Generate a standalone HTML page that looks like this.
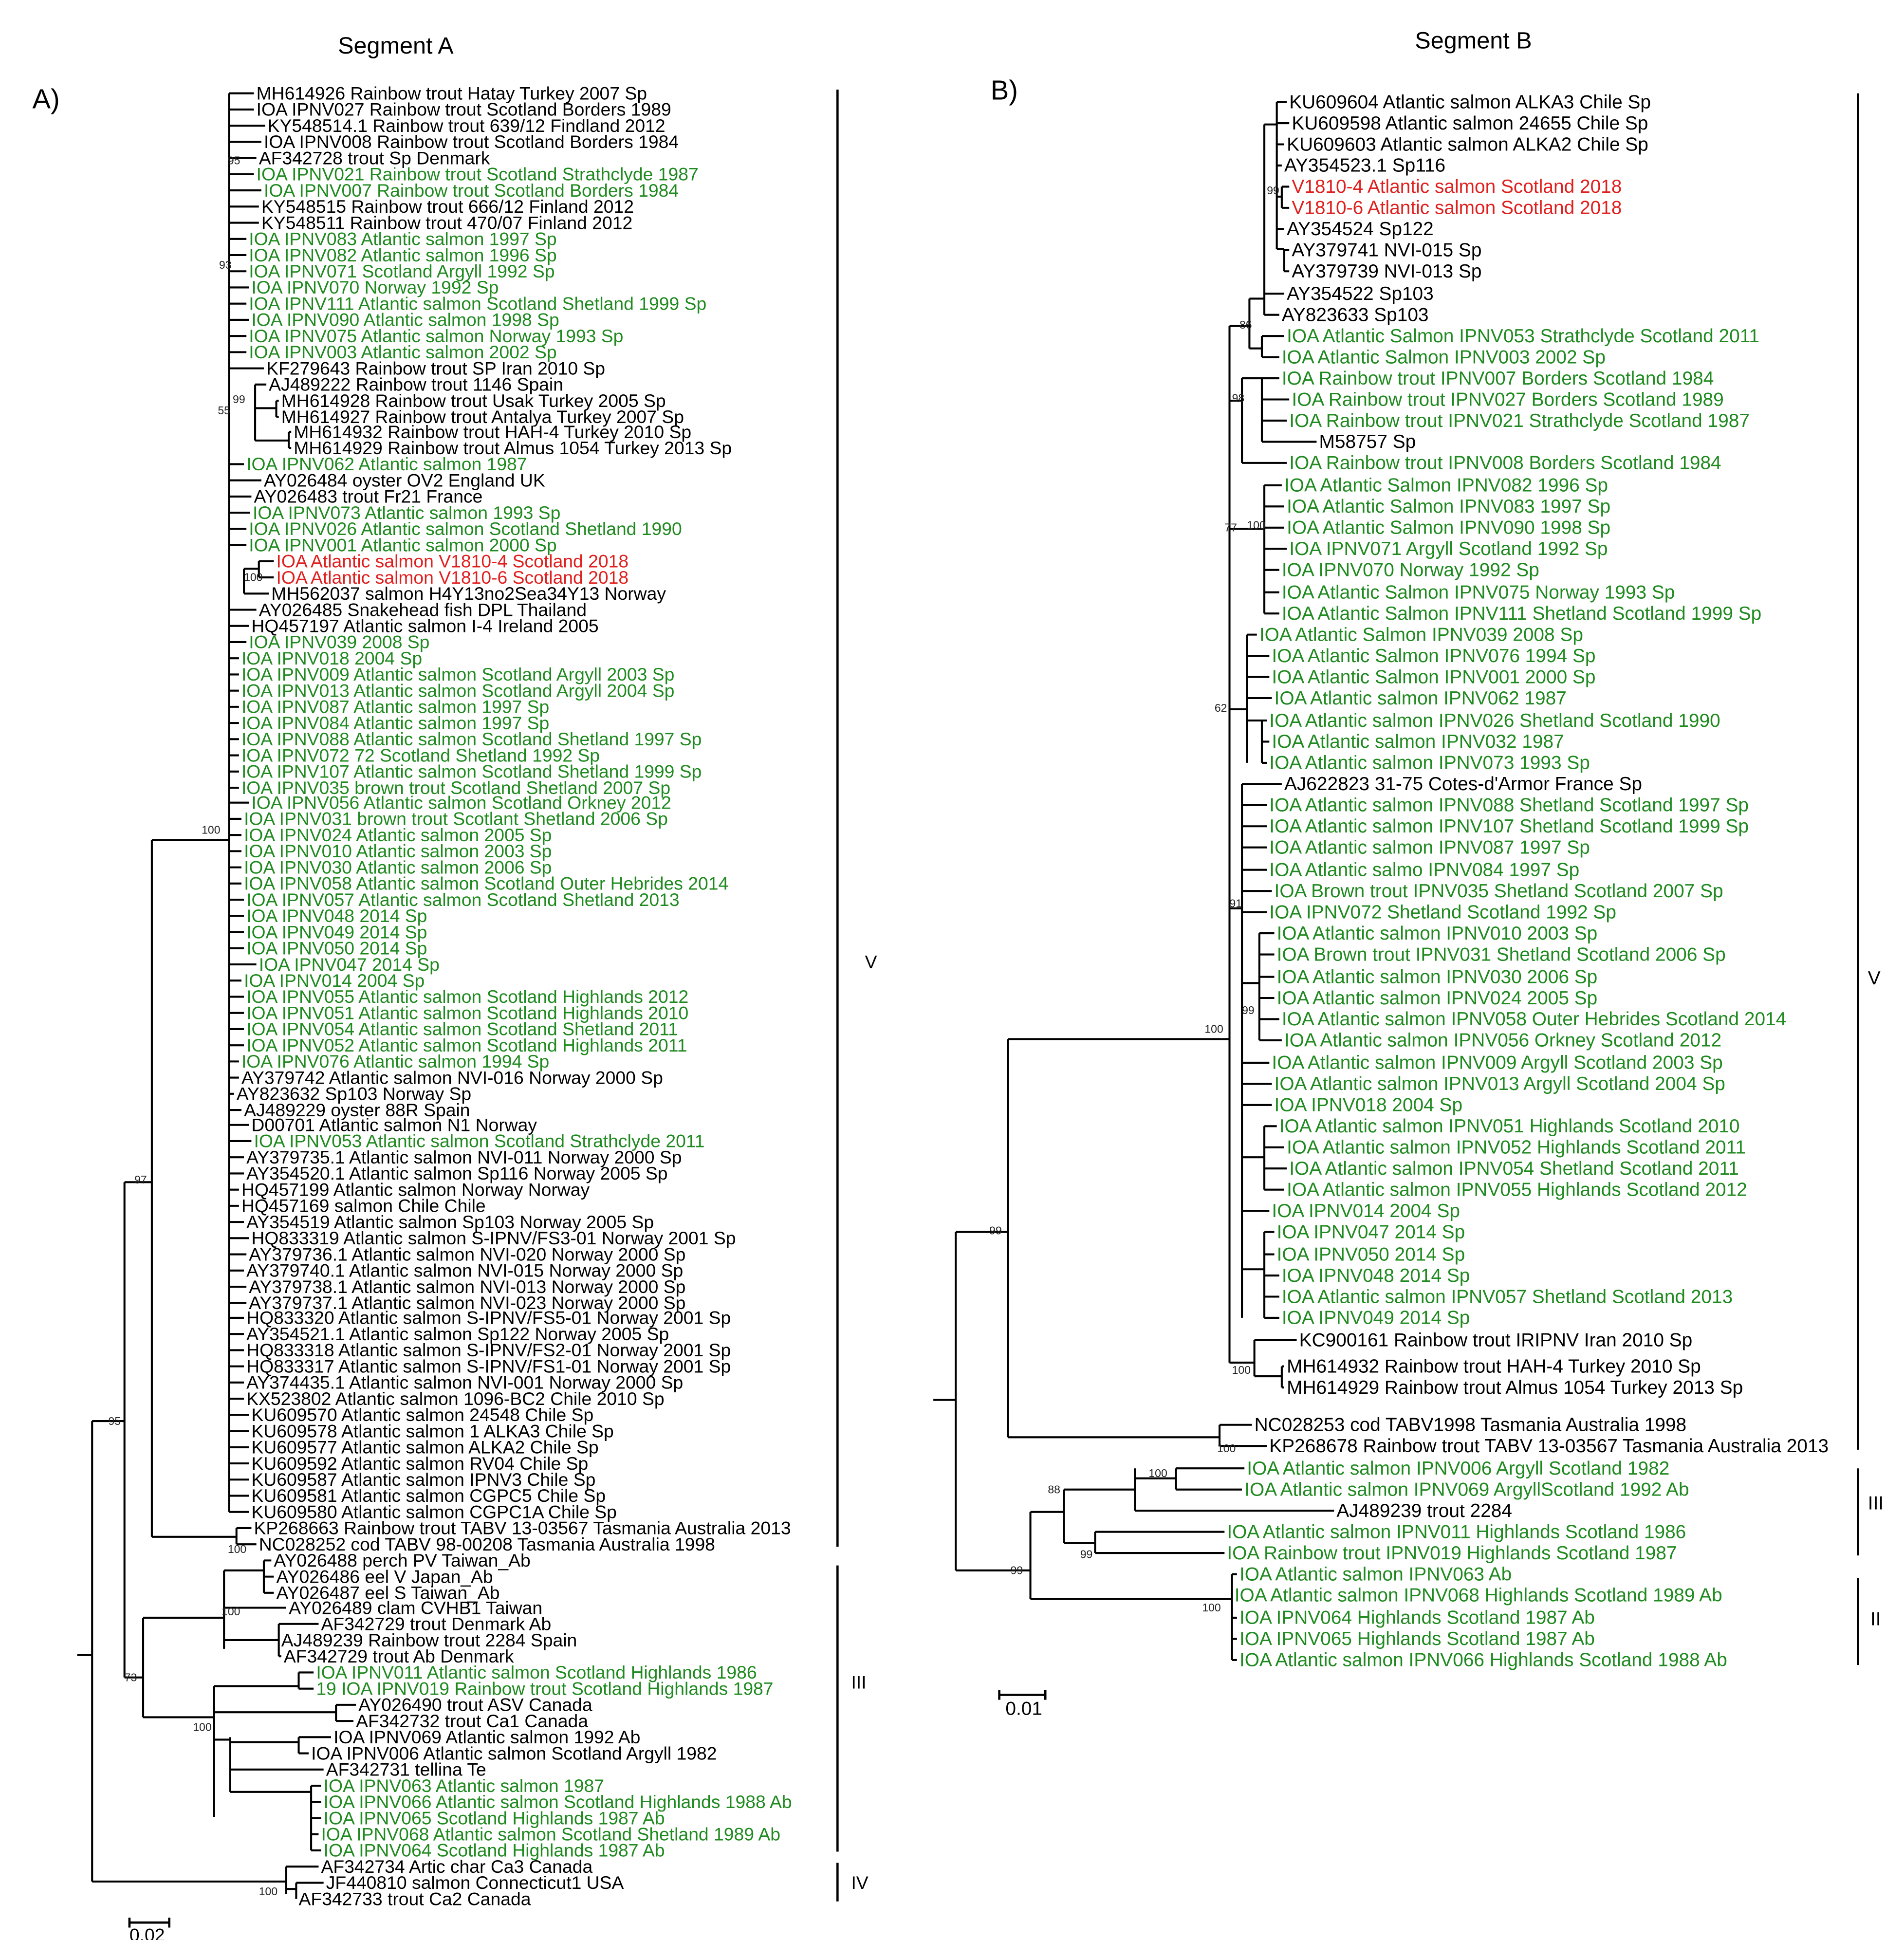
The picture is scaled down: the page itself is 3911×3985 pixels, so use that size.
<!DOCTYPE html>
<html><head><meta charset="utf-8"><style>
html,body{margin:0;padding:0;background:#fff}
svg{display:block}
text{font-family:"Liberation Sans",Arial,sans-serif}
.a text{font-size:14.6px}
.b text{font-size:15.2px}
.g{fill:#1f8a1f}.r{fill:#e0201e}
.bs{font-size:9px!important;fill:#222}
</style></head><body>
<svg width="3911" height="3985" viewBox="0 0 1530 1559" xmlns="http://www.w3.org/2000/svg">
<rect width="1530" height="1559" fill="#fff"/>
<text x="318" y="43" font-size="19" text-anchor="middle">Segment A</text>
<text x="1184" y="39" font-size="19" text-anchor="middle">Segment B</text>
<text x="26" y="87" font-size="22">A)</text>
<text x="796" y="80" font-size="22">B)</text>

<!-- Tree A lines -->
<g fill="none" stroke="#000" stroke-width="1.6">
<path d="M62 1330H74 M74 1142V1512 M74 1142H100 M100 950V1348 M100 950H122 M122 675V1235 M122 675H184 M184 75V1215 M122 1235H190 M190 1228V1241 M190 1228H202 M190 1241H206
M74 1512H230 M230 1500V1522 M230 1500H256 M230 1518H238 M238 1513V1526 M238 1513H260 M238 1526H238
M100 1348H115 M115 1300V1380 M115 1300H180 M180 1262V1325 M180 1262H212 M212 1254V1280 M212 1254H218 M212 1267H220 M212 1280H220 M180 1292H230 M180 1318H224 M224 1305V1331 M224 1305H256 M224 1331H226
M115 1380H172 M172 1355V1460 M172 1355H240 M240 1344V1357 M240 1344H252 M240 1357H252 M172 1376H270 M270 1370V1383 M270 1370H286 M270 1383H284 M172 1398H185 M185 1396V1440 M185 1400H240 M240 1396V1409 M240 1396H266 M240 1409H248 M185 1422H260 M185 1440H250 M250 1435V1487 M250 1435H258"/>
<path d="M184 75H204 M184 88H204 M184 101H213 M184 114H210 M184 127H206 M184 140H204 M184 153H210 M184 166H208 M184 179H208 M184 192H198 M184 205H198 M184 218H198 M184 231H200 M184 244H198 M184 257H200 M184 270H198 M184 283H198
M184 296H212 M205 309V354 M205 309H214 M205 328H222 M222 322V335 M222 322H224 M222 335H224 M205 354H232 M232 347V360 M232 347H234 M232 360H234
M184 373H196 M184 386H210 M184 399H202 M184 412H201 M184 425H198 M184 438H198 M196 457H208 M208 451V464 M208 451H220 M208 464H220 M196 457V477 M196 477H216 M184 490H206 M184 503H200 M184 516H198
M184 529H192 M184 542H192 M184 555H192 M184 568H192 M184 581H192 M184 594H192 M184 607H192 M184 620H192 M184 633H192 M184 645H200 M184 658H194 M184 671H194 M184 684H194 M184 697H194 M184 710H194 M184 723H196 M184 736H196 M184 749H196 M184 762H196 M184 775H206 M184 788H194 M184 801H196 M184 814H196 M184 827H196 M184 840H196 M184 853H192
M184 866H192 M184 879H188 M184 892H194 M184 904H200 M184 917H202 M184 930H196 M184 943H196 M184 956H192 M184 969H192 M184 982H196 M184 995H200 M184 1008H198 M184 1021H196 M184 1034H198 M184 1047H198 M184 1059H196 M184 1072H196 M184 1085H196 M184 1098H196 M184 1111H196 M184 1124H196 M184 1137H200 M184 1150H200 M184 1163H200 M184 1176H200 M184 1189H200 M184 1202H200 M184 1215H200
M250 1448H258 M250 1461H258 M250 1474H256 M250 1487H258"/>
<path d="M673 72V1243 M673 1258V1488 M673 1497V1528 M104 1545H136 M104 1541V1549 M136 1541V1549" stroke-width="1.8"/>
</g>
<g class="a">
<text x="695" y="778">V</text><text x="684" y="1357">III</text><text x="684" y="1518">IV</text>
<text x="104" y="1560" font-size="11">0.02</text>
<text class="bs" x="183" y="132">95</text><text class="bs" x="176" y="216">93</text><text class="bs" x="187" y="324">99</text><text class="bs" x="175" y="333">55</text><text class="bs" x="196" y="467">100</text><text class="bs" x="162" y="670">100</text><text class="bs" x="108" y="951">97</text><text class="bs" x="87" y="1145">95</text><text class="bs" x="183" y="1248">100</text><text class="bs" x="178" y="1298">100</text><text class="bs" x="100" y="1351">73</text><text class="bs" x="155" y="1391">100</text><text class="bs" x="208" y="1523">100</text>
<text x="206" y="80">MH614926 Rainbow trout Hatay Turkey 2007 Sp</text>
<text x="206" y="93">IOA IPNV027 Rainbow trout Scotland Borders 1989</text>
<text x="215" y="106">KY548514.1 Rainbow trout 639/12 Findland 2012</text>
<text x="212" y="119">IOA IPNV008 Rainbow trout Scotland Borders 1984</text>
<text x="208" y="132">AF342728 trout Sp Denmark</text>
<text class="g" x="206" y="145">IOA IPNV021 Rainbow trout Scotland Strathclyde 1987</text>
<text class="g" x="212" y="158">IOA IPNV007 Rainbow trout Scotland Borders 1984</text>
<text x="210" y="171">KY548515 Rainbow trout 666/12 Finland 2012</text>
<text x="210" y="184">KY548511 Rainbow trout 470/07 Finland 2012</text>
<text class="g" x="200" y="197">IOA IPNV083 Atlantic salmon 1997 Sp</text>
<text class="g" x="200" y="210">IOA IPNV082 Atlantic salmon 1996 Sp</text>
<text class="g" x="200" y="223">IOA IPNV071 Scotland Argyll 1992 Sp</text>
<text class="g" x="202" y="236">IOA IPNV070 Norway 1992 Sp</text>
<text class="g" x="200" y="249">IOA IPNV111 Atlantic salmon Scotland Shetland 1999 Sp</text>
<text class="g" x="202" y="262">IOA IPNV090 Atlantic salmon 1998 Sp</text>
<text class="g" x="200" y="275">IOA IPNV075 Atlantic salmon Norway 1993 Sp</text>
<text class="g" x="200" y="288">IOA IPNV003 Atlantic salmon 2002 Sp</text>
<text x="214" y="301">KF279643 Rainbow trout SP Iran 2010 Sp</text>
<text x="216" y="314">AJ489222 Rainbow trout 1146 Spain</text>
<text x="226" y="327">MH614928 Rainbow trout Usak Turkey 2005 Sp</text>
<text x="226" y="340">MH614927 Rainbow trout Antalya Turkey 2007 Sp</text>
<text x="236" y="352">MH614932 Rainbow trout HAH-4 Turkey 2010 Sp</text>
<text x="236" y="365">MH614929 Rainbow trout Almus 1054 Turkey 2013 Sp</text>
<text class="g" x="198" y="378">IOA IPNV062 Atlantic salmon 1987</text>
<text x="212" y="391">AY026484 oyster OV2 England UK</text>
<text x="204" y="404">AY026483 trout Fr21 France</text>
<text class="g" x="203" y="417">IOA IPNV073 Atlantic salmon 1993 Sp</text>
<text class="g" x="200" y="430">IOA IPNV026 Atlantic salmon Scotland Shetland 1990</text>
<text class="g" x="200" y="443">IOA IPNV001 Atlantic salmon 2000 Sp</text>
<text class="r" x="222" y="456">IOA Atlantic salmon V1810-4 Scotland 2018</text>
<text class="r" x="222" y="469">IOA Atlantic salmon V1810-6 Scotland 2018</text>
<text x="218" y="482">MH562037 salmon H4Y13no2Sea34Y13 Norway</text>
<text x="208" y="495">AY026485 Snakehead fish DPL Thailand</text>
<text x="202" y="508">HQ457197 Atlantic salmon I-4 Ireland 2005</text>
<text class="g" x="200" y="521">IOA IPNV039 2008 Sp</text>
<text class="g" x="194" y="534">IOA IPNV018 2004 Sp</text>
<text class="g" x="194" y="547">IOA IPNV009 Atlantic salmon Scotland Argyll 2003 Sp</text>
<text class="g" x="194" y="560">IOA IPNV013 Atlantic salmon Scotland Argyll 2004 Sp</text>
<text class="g" x="194" y="573">IOA IPNV087 Atlantic salmon 1997 Sp</text>
<text class="g" x="194" y="586">IOA IPNV084 Atlantic salmon 1997 Sp</text>
<text class="g" x="194" y="599">IOA IPNV088 Atlantic salmon Scotland Shetland 1997 Sp</text>
<text class="g" x="194" y="612">IOA IPNV072 72 Scotland Shetland 1992 Sp</text>
<text class="g" x="194" y="625">IOA IPNV107 Atlantic salmon Scotland Shetland 1999 Sp</text>
<text class="g" x="194" y="638">IOA IPNV035 brown trout Scotland Shetland 2007 Sp</text>
<text class="g" x="202" y="650">IOA IPNV056 Atlantic salmon Scotland Orkney 2012</text>
<text class="g" x="196" y="663">IOA IPNV031 brown trout Scotlant Shetland 2006 Sp</text>
<text class="g" x="196" y="676">IOA IPNV024 Atlantic salmon 2005 Sp</text>
<text class="g" x="196" y="689">IOA IPNV010 Atlantic salmon 2003 Sp</text>
<text class="g" x="196" y="702">IOA IPNV030 Atlantic salmon 2006 Sp</text>
<text class="g" x="196" y="715">IOA IPNV058 Atlantic salmon Scotland Outer Hebrides 2014</text>
<text class="g" x="198" y="728">IOA IPNV057 Atlantic salmon Scotland Shetland 2013</text>
<text class="g" x="198" y="741">IOA IPNV048 2014 Sp</text>
<text class="g" x="198" y="754">IOA IPNV049 2014 Sp</text>
<text class="g" x="198" y="767">IOA IPNV050 2014 Sp</text>
<text class="g" x="208" y="780">IOA IPNV047 2014 Sp</text>
<text class="g" x="196" y="793">IOA IPNV014 2004 Sp</text>
<text class="g" x="198" y="806">IOA IPNV055 Atlantic salmon Scotland Highlands 2012</text>
<text class="g" x="198" y="819">IOA IPNV051 Atlantic salmon Scotland Highlands 2010</text>
<text class="g" x="198" y="832">IOA IPNV054 Atlantic salmon Scotland Shetland 2011</text>
<text class="g" x="198" y="845">IOA IPNV052 Atlantic salmon Scotland Highlands 2011</text>
<text class="g" x="194" y="858">IOA IPNV076 Atlantic salmon 1994 Sp</text>
<text x="194" y="871">AY379742 Atlantic salmon NVI-016 Norway 2000 Sp</text>
<text x="190" y="884">AY823632 Sp103 Norway Sp</text>
<text x="196" y="897">AJ489229 oyster 88R Spain</text>
<text x="202" y="909">D00701 Atlantic salmon N1 Norway</text>
<text class="g" x="204" y="922">IOA IPNV053 Atlantic salmon Scotland Strathclyde 2011</text>
<text x="198" y="935">AY379735.1 Atlantic salmon NVI-011 Norway 2000 Sp</text>
<text x="198" y="948">AY354520.1 Atlantic salmon Sp116 Norway 2005 Sp</text>
<text x="194" y="961">HQ457199 Atlantic salmon Norway Norway</text>
<text x="194" y="974">HQ457169 salmon Chile Chile</text>
<text x="198" y="987">AY354519 Atlantic salmon Sp103 Norway 2005 Sp</text>
<text x="202" y="1000">HQ833319 Atlantic salmon S-IPNV/FS3-01 Norway 2001 Sp</text>
<text x="200" y="1013">AY379736.1 Atlantic salmon NVI-020 Norway 2000 Sp</text>
<text x="198" y="1026">AY379740.1 Atlantic salmon NVI-015 Norway 2000 Sp</text>
<text x="200" y="1039">AY379738.1 Atlantic salmon NVI-013 Norway 2000 Sp</text>
<text x="200" y="1052">AY379737.1 Atlantic salmon NVI-023 Norway 2000 Sp</text>
<text x="198" y="1064">HQ833320 Atlantic salmon  S-IPNV/FS5-01 Norway 2001 Sp</text>
<text x="198" y="1077">AY354521.1 Atlantic salmon Sp122 Norway 2005 Sp</text>
<text x="198" y="1090">HQ833318 Atlantic salmon S-IPNV/FS2-01 Norway 2001 Sp</text>
<text x="198" y="1103">HQ833317 Atlantic salmon S-IPNV/FS1-01 Norway 2001 Sp</text>
<text x="198" y="1116">AY374435.1 Atlantic salmon NVI-001 Norway 2000 Sp</text>
<text x="198" y="1129">KX523802 Atlantic salmon 1096-BC2 Chile 2010 Sp</text>
<text x="202" y="1142">KU609570 Atlantic salmon 24548 Chile Sp</text>
<text x="202" y="1155">KU609578 Atlantic salmon 1 ALKA3 Chile Sp</text>
<text x="202" y="1168">KU609577 Atlantic salmon ALKA2 Chile Sp</text>
<text x="202" y="1181">KU609592 Atlantic salmon RV04 Chile Sp</text>
<text x="202" y="1194">KU609587 Atlantic salmon IPNV3 Chile Sp</text>
<text x="202" y="1207">KU609581 Atlantic salmon CGPC5 Chile Sp</text>
<text x="202" y="1220">KU609580 Atlantic salmon CGPC1A Chile Sp</text>
<text x="204" y="1233">KP268663 Rainbow trout TABV 13-03567 Tasmania Australia 2013</text>
<text x="208" y="1246">NC028252 cod TABV 98-00208 Tasmania Australia 1998</text>
<text x="220" y="1259">AY026488 perch PV Taiwan_Ab</text>
<text x="222" y="1272">AY026486 eel V Japan_Ab</text>
<text x="222" y="1285">AY026487 eel S Taiwan_Ab</text>
<text x="232" y="1297">AY026489 clam CVHB1 Taiwan</text>
<text x="258" y="1310">AF342729 trout Denmark Ab</text>
<text x="226" y="1323">AJ489239 Rainbow trout 2284 Spain</text>
<text x="228" y="1336">AF342729 trout Ab Denmark</text>
<text class="g" x="254" y="1349">IOA IPNV011 Atlantic salmon Scotland Highlands 1986</text>
<text class="g" x="254" y="1362">19 IOA IPNV019 Rainbow trout Scotland Highlands 1987</text>
<text x="288" y="1375">AY026490 trout ASV Canada</text>
<text x="286" y="1388">AF342732 trout Ca1 Canada</text>
<text x="268" y="1401">IOA IPNV069 Atlantic salmon 1992 Ab</text>
<text x="250" y="1414">IOA IPNV006 Atlantic salmon Scotland Argyll 1982</text>
<text x="262" y="1427">AF342731 tellina Te</text>
<text class="g" x="260" y="1440">IOA IPNV063 Atlantic salmon 1987</text>
<text class="g" x="260" y="1453">IOA IPNV066 Atlantic salmon Scotland Highlands 1988 Ab</text>
<text class="g" x="260" y="1466">IOA IPNV065 Scotland Highlands 1987 Ab</text>
<text class="g" x="258" y="1479">IOA IPNV068 Atlantic salmon Scotland Shetland 1989 Ab</text>
<text class="g" x="260" y="1492">IOA IPNV064 Scotland Highlands 1987 Ab</text>
<text x="258" y="1505">AF342734 Artic char Ca3 Canada</text>
<text x="262" y="1518">JF440810 salmon Connecticut1 USA</text>
<text x="240" y="1531">AF342733 trout Ca2 Canada</text>
</g>

<!-- Tree B lines -->
<g fill="none" stroke="#000" stroke-width="1.6">
<path d="M750 1125H768 M768 990V1262 M768 990H810 M810 835V1155 M810 835H988 M988 262V1095 M810 1155H980 M980 1145V1162 M980 1145H1006 M980 1162H1018
M988 262H1004 M1004 240V280 M1004 240H1016 M1016 100V253 M1016 100H1026 M1026 82V200 M1026 82H1034 M1026 99H1036 M1026 116H1032 M1026 133H1030 M1026 158H1030 M1030 150V167 M1030 150H1036 M1030 167H1036 M1026 184H1032 M1026 200H1032 M1032 201V218 M1032 201H1036 M1032 218H1036 M1016 236H1032 M1016 253H1028
M1004 280H1014 M1014 270V287 M1014 270H1032 M1014 287H1028
M988 322H998 M998 304V372 M998 304H1014 M1014 304V338 M1014 304H1028 M1014 321H1036 M1014 338H1034 M1014 355H1058 M1014 338V355 M998 372H1034
M988 425H1016 M1016 390V493 M1016 390H1030 M1016 407H1032 M1016 424H1032 M1016 441H1034 M1016 458H1028 M1016 476H1028 M1016 493H1028
M988 570H1002 M1002 510V613 M1002 510H1010 M1002 527H1020 M1002 544H1020 M1002 561H1022 M1014 579V613 M1002 579H1018 M1014 596H1020 M1014 613H1018
M988 730H998 M998 630V1059 M998 630H1030 M998 647H1018 M998 664H1018 M998 681H1018 M998 699H1018 M998 716H1022 M998 733H1018 M1012 750V836 M998 790H1012 M1012 750H1024 M1012 767H1024 M1012 785H1024 M1012 802H1024 M1012 819H1028 M1012 836H1030 M998 854H1020 M998 871H1022 M998 888H1022 M1016 905V956 M998 930H1016 M1016 905H1026 M1016 922H1032 M1016 939H1034 M1016 956H1032 M998 973H1020 M1016 990V1059 M998 1020H1016 M1016 990H1024 M1016 1008H1024 M1016 1025H1028 M1016 1042H1028 M1016 1059H1028
M988 1095H1008 M1008 1077V1106 M1008 1077H1042 M1008 1106H1030 M1030 1098V1115 M1030 1098H1032 M1030 1115H1032
M768 1262H828 M828 1215V1285 M828 1215H855 M855 1197V1240 M855 1197H912 M912 1180V1214 M912 1188H945 M945 1180V1197 M945 1180H1000 M945 1197H998 M912 1214H1072 M855 1240H880 M880 1231V1248 M880 1231H984 M880 1248H984
M828 1285H990 M990 1265V1334 M990 1265H994 M990 1282H990 M990 1300H994 M990 1317H994 M990 1334H994"/>
<path d="M1493 75V1165 M1493 1180V1250 M1493 1268V1338 M803 1362H840 M803 1358V1366 M840 1358V1366" stroke-width="1.8"/>
</g>
<g class="b">
<text x="1501" y="791" font-size="15">V</text><text x="1501" y="1213">III</text><text x="1503" y="1306">II</text>
<text x="808" y="1378" font-size="11">0.01</text>
<text class="bs" x="1018" y="156">99</text><text class="bs" x="996" y="264">86</text><text class="bs" x="990" y="323">98</text><text class="bs" x="984" y="427">77</text><text class="bs" x="1002" y="425">100</text><text class="bs" x="976" y="572">62</text><text class="bs" x="988" y="729">91</text><text class="bs" x="998" y="815">99</text><text class="bs" x="968" y="830">100</text><text class="bs" x="795" y="992">99</text><text class="bs" x="990" y="1104">100</text><text class="bs" x="978" y="1167">100</text><text class="bs" x="923" y="1187">100</text><text class="bs" x="842" y="1200">88</text><text class="bs" x="868" y="1252">99</text><text class="bs" x="812" y="1265">99</text><text class="bs" x="966" y="1295">100</text>
<text x="1036" y="87">KU609604 Atlantic salmon ALKA3 Chile Sp</text>
<text x="1038" y="104">KU609598 Atlantic salmon 24655 Chile Sp</text>
<text x="1034" y="121">KU609603 Atlantic salmon ALKA2 Chile Sp</text>
<text x="1032" y="138">AY354523.1 Sp116</text>
<text class="r" x="1038" y="155">V1810-4 Atlantic salmon Scotland 2018</text>
<text class="r" x="1038" y="172">V1810-6 Atlantic salmon Scotland 2018</text>
<text x="1034" y="189">AY354524 Sp122</text>
<text x="1038" y="206">AY379741 NVI-015 Sp</text>
<text x="1038" y="223">AY379739 NVI-013 Sp</text>
<text x="1034" y="241">AY354522 Sp103</text>
<text x="1030" y="258">AY823633 Sp103</text>
<text class="g" x="1034" y="275">IOA Atlantic Salmon IPNV053 Strathclyde Scotland 2011</text>
<text class="g" x="1030" y="292">IOA Atlantic Salmon IPNV003 2002 Sp</text>
<text class="g" x="1030" y="309">IOA Rainbow trout IPNV007 Borders Scotland 1984</text>
<text class="g" x="1038" y="326">IOA Rainbow trout IPNV027 Borders Scotland 1989</text>
<text class="g" x="1036" y="343">IOA Rainbow trout IPNV021 Strathclyde Scotland 1987</text>
<text x="1060" y="360">M58757 Sp</text>
<text class="g" x="1036" y="377">IOA Rainbow trout IPNV008 Borders Scotland 1984</text>
<text class="g" x="1032" y="395">IOA Atlantic Salmon IPNV082 1996 Sp</text>
<text class="g" x="1034" y="412">IOA Atlantic Salmon IPNV083 1997 Sp</text>
<text class="g" x="1034" y="429">IOA Atlantic Salmon IPNV090 1998 Sp</text>
<text class="g" x="1036" y="446">IOA IPNV071 Argyll Scotland 1992 Sp</text>
<text class="g" x="1030" y="463">IOA IPNV070 Norway 1992 Sp</text>
<text class="g" x="1030" y="481">IOA Atlantic Salmon IPNV075 Norway 1993 Sp</text>
<text class="g" x="1030" y="498">IOA Atlantic Salmon IPNV111 Shetland Scotland 1999 Sp</text>
<text class="g" x="1012" y="515">IOA Atlantic Salmon IPNV039 2008 Sp</text>
<text class="g" x="1022" y="532">IOA Atlantic Salmon IPNV076 1994 Sp</text>
<text class="g" x="1022" y="549">IOA Atlantic Salmon IPNV001 2000 Sp</text>
<text class="g" x="1024" y="566">IOA Atlantic salmon IPNV062 1987</text>
<text class="g" x="1020" y="584">IOA Atlantic salmon IPNV026 Shetland Scotland 1990</text>
<text class="g" x="1022" y="601">IOA Atlantic salmon IPNV032 1987</text>
<text class="g" x="1020" y="618">IOA Atlantic salmon IPNV073 1993 Sp</text>
<text x="1032" y="635">AJ622823 31-75 Cotes-d'Armor France Sp</text>
<text class="g" x="1020" y="652">IOA Atlantic salmon IPNV088 Shetland Scotland 1997 Sp</text>
<text class="g" x="1020" y="669">IOA Atlantic salmon IPNV107 Shetland Scotland 1999 Sp</text>
<text class="g" x="1020" y="686">IOA Atlantic salmon IPNV087 1997 Sp</text>
<text class="g" x="1020" y="704">IOA Atlantic salmo IPNV084 1997 Sp</text>
<text class="g" x="1024" y="721">IOA Brown trout IPNV035 Shetland Scotland 2007 Sp</text>
<text class="g" x="1020" y="738">IOA IPNV072 Shetland Scotland 1992 Sp</text>
<text class="g" x="1026" y="755">IOA Atlantic salmon IPNV010 2003 Sp</text>
<text class="g" x="1026" y="772">IOA Brown trout IPNV031 Shetland Scotland 2006 Sp</text>
<text class="g" x="1026" y="790">IOA Atlantic salmon IPNV030 2006 Sp</text>
<text class="g" x="1026" y="807">IOA Atlantic salmon IPNV024 2005 Sp</text>
<text class="g" x="1030" y="824">IOA Atlantic salmon IPNV058 Outer Hebrides Scotland 2014</text>
<text class="g" x="1032" y="841">IOA Atlantic salmon IPNV056 Orkney Scotland 2012</text>
<text class="g" x="1022" y="859">IOA Atlantic salmon IPNV009 Argyll Scotland 2003 Sp</text>
<text class="g" x="1024" y="876">IOA Atlantic salmon IPNV013 Argyll Scotland 2004 Sp</text>
<text class="g" x="1024" y="893">IOA IPNV018 2004 Sp</text>
<text class="g" x="1028" y="910">IOA Atlantic salmon IPNV051 Highlands Scotland 2010</text>
<text class="g" x="1034" y="927">IOA Atlantic salmon IPNV052 Highlands Scotland 2011</text>
<text class="g" x="1036" y="944">IOA Atlantic salmon IPNV054 Shetland Scotland 2011</text>
<text class="g" x="1034" y="961">IOA Atlantic salmon IPNV055 Highlands Scotland 2012</text>
<text class="g" x="1022" y="978">IOA IPNV014 2004 Sp</text>
<text class="g" x="1026" y="995">IOA IPNV047 2014 Sp</text>
<text class="g" x="1026" y="1013">IOA IPNV050 2014 Sp</text>
<text class="g" x="1030" y="1030">IOA IPNV048 2014 Sp</text>
<text class="g" x="1030" y="1047">IOA Atlantic salmon IPNV057 Shetland Scotland 2013</text>
<text class="g" x="1030" y="1064">IOA IPNV049 2014 Sp</text>
<text x="1044" y="1082">KC900161 Rainbow trout IRIPNV Iran 2010 Sp</text>
<text x="1034" y="1103">MH614932 Rainbow trout HAH-4 Turkey 2010 Sp</text>
<text x="1034" y="1120">MH614929 Rainbow trout Almus 1054 Turkey 2013 Sp</text>
<text x="1008" y="1150">NC028253 cod TABV1998 Tasmania Australia 1998</text>
<text x="1020" y="1167">KP268678 Rainbow trout TABV 13-03567 Tasmania Australia 2013</text>
<text class="g" x="1002" y="1185">IOA Atlantic salmon IPNV006 Argyll Scotland 1982</text>
<text class="g" x="1000" y="1202">IOA Atlantic salmon IPNV069 ArgyllScotland 1992 Ab</text>
<text x="1074" y="1219">AJ489239 trout 2284</text>
<text class="g" x="986" y="1236">IOA Atlantic salmon IPNV011 Highlands Scotland 1986</text>
<text class="g" x="986" y="1253">IOA Rainbow trout IPNV019 Highlands Scotland 1987</text>
<text class="g" x="996" y="1270">IOA Atlantic salmon IPNV063 Ab</text>
<text class="g" x="992" y="1287">IOA Atlantic salmon IPNV068 Highlands Scotland 1989 Ab</text>
<text class="g" x="996" y="1305">IOA IPNV064 Highlands Scotland 1987 Ab</text>
<text class="g" x="996" y="1322">IOA IPNV065 Highlands Scotland 1987 Ab</text>
<text class="g" x="996" y="1339">IOA Atlantic salmon IPNV066 Highlands Scotland 1988 Ab</text>
</g>
</svg>
</body></html>
